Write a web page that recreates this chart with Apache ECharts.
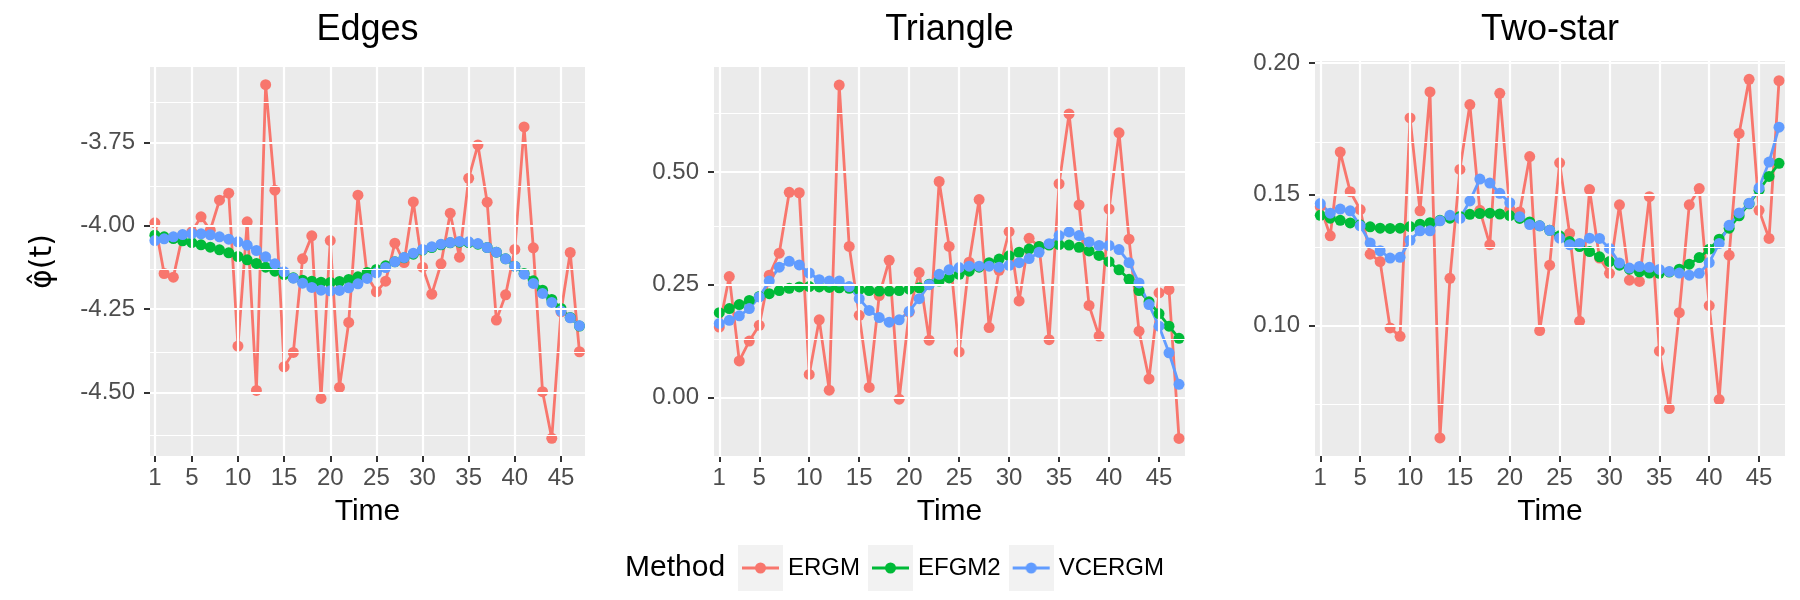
<!DOCTYPE html>
<html>
<head>
<meta charset="utf-8">
<script src="https://cdn.jsdelivr.net/npm/echarts@6/dist/echarts.min.js"></script>
<style>
  html, body { margin: 0; padding: 0; background: #fff; }
  #main { width: 1800px; height: 600px; }
</style>
</head>
<body>
<div id="main"></div>
<script>
// time points
const time = [1, 2, 3, 4, 5, 6, 7, 8, 9, 10, 11, 12, 13, 14, 15, 16, 17, 18, 19, 20,
  21, 22, 23, 24, 25, 26, 27, 28, 29, 30, 31, 32, 33, 34, 35, 36, 37, 38, 39, 40,
  41, 42, 43, 44, 45, 46, 47]
const timeTicks = [1, 5, 10, 15, 20, 25, 30, 35, 40, 45]

// Edges
const edgesErgm = [-3.991, -4.143, -4.154, -4.028, -4.018, -3.973, -4.013, -3.923, -3.902, -4.361,
  -3.988, -4.494, -3.576, -3.893, -4.423, -4.380, -4.099, -4.030, -4.518, -4.044,
  -4.485, -4.290, -3.908, -4.150, -4.198, -4.166, -4.052, -4.110, -3.928, -4.124,
  -4.205, -4.114, -3.962, -4.094, -3.857, -3.757, -3.929, -4.283, -4.207, -4.071,
  -3.703, -4.066, -4.498, -4.638, -4.258, -4.080, -4.378]
const edgesEfgm2 = [-4.028, -4.033, -4.038, -4.045, -4.050, -4.057, -4.064, -4.072, -4.081, -4.092,
  -4.102, -4.113, -4.124, -4.136, -4.146, -4.156, -4.163, -4.166, -4.169, -4.170,
  -4.167, -4.161, -4.153, -4.140, -4.131, -4.120, -4.108, -4.096, -4.085, -4.073,
  -4.065, -4.057, -4.051, -4.049, -4.050, -4.055, -4.065, -4.079, -4.099, -4.121,
  -4.143, -4.165, -4.193, -4.221, -4.248, -4.275, -4.301]
const edgesVcergm = [-4.044, -4.039, -4.033, -4.026, -4.023, -4.024, -4.027, -4.033, -4.040, -4.048,
  -4.058, -4.074, -4.093, -4.114, -4.138, -4.157, -4.172, -4.185, -4.193, -4.195,
  -4.194, -4.186, -4.174, -4.158, -4.141, -4.125, -4.108, -4.095, -4.082, -4.071,
  -4.063, -4.055, -4.050, -4.047, -4.048, -4.053, -4.065, -4.079, -4.099, -4.121,
  -4.145, -4.173, -4.203, -4.230, -4.256, -4.276, -4.300]
const edgesMajor = [-4.5, -4.25, -4.0, -3.75]
const edgesMinor = [-4.625, -4.375, -4.125, -3.875, -3.625]

// Triangle
const triErgm = [0.156, 0.268, 0.081, 0.125, 0.160, 0.271, 0.320, 0.455, 0.454, 0.051,
  0.172, 0.016, 0.693, 0.335, 0.182, 0.022, 0.226, 0.304, -0.004, 0.189,
  0.277, 0.127, 0.479, 0.335, 0.101, 0.300, 0.439, 0.155, 0.282, 0.368,
  0.214, 0.353, 0.335, 0.128, 0.474, 0.629, 0.427, 0.204, 0.136, 0.418,
  0.587, 0.351, 0.147, 0.041, 0.232, 0.239, -0.091]
const triEfgm2 = [0.188, 0.197, 0.206, 0.215, 0.224, 0.230, 0.237, 0.242, 0.245, 0.246,
  0.245, 0.244, 0.243, 0.242, 0.239, 0.237, 0.236, 0.236, 0.237, 0.240,
  0.243, 0.251, 0.258, 0.265, 0.273, 0.280, 0.289, 0.299, 0.307, 0.314,
  0.322, 0.329, 0.335, 0.338, 0.339, 0.338, 0.333, 0.325, 0.315, 0.301,
  0.283, 0.262, 0.237, 0.212, 0.186, 0.158, 0.131]
const triVcergm = [0.164, 0.171, 0.181, 0.197, 0.223, 0.258, 0.289, 0.302, 0.294, 0.276,
  0.261, 0.258, 0.258, 0.246, 0.219, 0.193, 0.177, 0.167, 0.172, 0.191,
  0.219, 0.250, 0.273, 0.283, 0.288, 0.291, 0.291, 0.291, 0.289, 0.293,
  0.299, 0.308, 0.322, 0.341, 0.359, 0.367, 0.359, 0.345, 0.337, 0.337,
  0.328, 0.299, 0.254, 0.206, 0.158, 0.099, 0.029]
const triMajor = [0, 0.25, 0.5]
const triMinor = [-0.125, 0.125, 0.375, 0.625]

// Two-star
const starErgm = [0.1453, 0.1342, 0.1661, 0.1510, 0.1442, 0.1272, 0.1244, 0.0991, 0.0959, 0.1791,
  0.1437, 0.1890, 0.0572, 0.1180, 0.1595, 0.1842, 0.1439, 0.1308, 0.1885, 0.1443,
  0.1433, 0.1644, 0.0981, 0.1230, 0.1620, 0.1351, 0.1016, 0.1518, 0.1257, 0.1199,
  0.1460, 0.1173, 0.1168, 0.1491, 0.0903, 0.0684, 0.1049, 0.1460, 0.1522, 0.1076,
  0.0718, 0.1268, 0.1732, 0.1938, 0.1439, 0.1332, 0.1933]
const starEfgm2 = [0.1420, 0.1409, 0.1401, 0.1391, 0.1384, 0.1376, 0.1371, 0.1370, 0.1371, 0.1377,
  0.1386, 0.1392, 0.1401, 0.1409, 0.1416, 0.1424, 0.1427, 0.1428, 0.1425, 0.1419,
  0.1408, 0.1395, 0.1380, 0.1363, 0.1342, 0.1320, 0.1301, 0.1282, 0.1262, 0.1244,
  0.1230, 0.1215, 0.1205, 0.1200, 0.1199, 0.1204, 0.1215, 0.1234, 0.1259, 0.1291,
  0.1329, 0.1371, 0.1418, 0.1464, 0.1516, 0.1568, 0.1618]
const starVcergm = [0.1465, 0.1428, 0.1444, 0.1437, 0.1380, 0.1315, 0.1285, 0.1257, 0.1260, 0.1325,
  0.1361, 0.1361, 0.1399, 0.1420, 0.1408, 0.1475, 0.1558, 0.1543, 0.1504, 0.1468,
  0.1415, 0.1385, 0.1380, 0.1363, 0.1333, 0.1308, 0.1313, 0.1333, 0.1332, 0.1294,
  0.1238, 0.1219, 0.1225, 0.1222, 0.1214, 0.1206, 0.1200, 0.1192, 0.1199, 0.1240,
  0.1313, 0.1382, 0.1429, 0.1466, 0.1525, 0.1623, 0.1756]
const starMajor = [0.10, 0.15, 0.20]
const starMinor = [0.075, 0.125, 0.175]

const methods = ['ERGM', 'EFGM2', 'VCERGM']
const colors = ['#F8766D', '#00BA38', '#619CFF']
const font = '"Liberation Sans", Arial, sans-serif'

const panels = [
  { title: 'Edges', series: [edgesErgm, edgesEfgm2, edgesVcergm], major: edgesMajor, minor: edgesMinor,
    ymin: -4.691, ymax: -3.523, box: [150, 67, 585, 456] },
  { title: 'Triangle', series: [triErgm, triEfgm2, triVcergm], major: triMajor, minor: triMinor,
    ymin: -0.130, ymax: 0.733, box: [714, 67, 1185, 456] },
  { title: 'Two-star', series: [starErgm, starEfgm2, starVcergm], major: starMajor, minor: starMinor,
    ymin: 0.0503, ymax: 0.2008, box: [1315, 61, 1785, 456] }
]

// legend key: grey box with line and dot
function keyIcon(color) {
  const c = document.createElement('canvas')
  c.width = 45
  c.height = 46
  const g = c.getContext('2d')
  g.fillStyle = '#F2F2F2'
  g.fillRect(0, 0, 45, 46)
  g.strokeStyle = color
  g.lineWidth = 2.8
  g.beginPath()
  g.moveTo(4, 23)
  g.lineTo(41, 23)
  g.stroke()
  g.fillStyle = color
  g.beginPath()
  g.arc(22.5, 23, 5.5, 0, Math.PI * 2)
  g.fill()
  return 'image://' + c.toDataURL()
}

const grid = [], xAxis = [], yAxis = [], series = [], title = []

panels.forEach((p, i) => {
  const [l, t, r, b] = p.box
  grid.push({ left: l, top: t, width: r - l, height: b - t, show: true,
    backgroundColor: '#EBEBEB', borderWidth: 0, containLabel: false })
  title.push({ text: p.title, left: (l + r) / 2, top: 12, textAlign: 'center', padding: 0,
    textStyle: { fontSize: 36, fontWeight: 'normal', color: '#000', fontFamily: font } })
  xAxis.push({
    type: 'value', gridIndex: i, min: 0.47, max: 47.6,
    axisLine: { show: false, onZero: false },
    splitLine: { show: false },
    axisTick: { show: true, customValues: timeTicks, length: 6, lineStyle: { color: '#333', width: 2 } },
    axisLabel: { customValues: timeTicks, margin: 10, fontSize: 24, color: '#4D4D4D', fontFamily: font },
    name: 'Time', nameLocation: 'middle', nameGap: 41,
    nameTextStyle: { fontSize: 30, color: '#000', fontFamily: font }
  })
  yAxis.push({
    type: 'value', gridIndex: i, min: p.ymin, max: p.ymax,
    axisLine: { show: false, onZero: false },
    splitLine: { show: false },
    axisTick: { show: true, customValues: p.major, length: 6, lineStyle: { color: '#333', width: 2 } },
    axisLabel: { customValues: p.major, margin: 15, fontSize: 24, color: '#4D4D4D', fontFamily: font,
      formatter: v => v.toFixed(2) },
    name: i === 0 ? '\u03C6\u0302(t)' : '', nameLocation: 'middle', nameGap: 92,
    nameTextStyle: { fontSize: 30, color: '#000', fontFamily: '"DejaVu Sans", sans-serif' }
  })
  // panel grid lines
  const lines = []
  p.minor.forEach(v => lines.push({ yAxis: v, lineStyle: { color: '#fff', width: 1.1, type: 'solid' } }))
  p.major.forEach(v => lines.push({ yAxis: v, lineStyle: { color: '#fff', width: 2.2, type: 'solid' } }))
  timeTicks.forEach(v => lines.push({ xAxis: v, lineStyle: { color: '#fff', width: 2.2, type: 'solid' } }))
  series.push({
    type: 'line', name: 'grid' + i, xAxisIndex: i, yAxisIndex: i, z: 1, silent: true,
    data: time.map((x, k) => [x, p.series[0][k]]), symbol: 'none', lineStyle: { opacity: 0 },
    markLine: { silent: true, symbol: ['none', 'none'], animation: false, label: { show: false },
      emphasis: { disabled: true }, data: lines }
  })
  // lines first, then points (like geom_line + geom_point)
  p.series.forEach((vals, k) => {
    series.push({
      type: 'line', name: methods[k], xAxisIndex: i, yAxisIndex: i, z: 2,
      data: time.map((x, j) => [x, vals[j]]), symbol: 'none',
      lineStyle: { color: colors[k], width: 2.8 }, itemStyle: { color: colors[k] }
    })
  })
  p.series.forEach((vals, k) => {
    series.push({
      type: 'scatter', name: methods[k], xAxisIndex: i, yAxisIndex: i, z: 3,
      data: time.map((x, j) => [x, vals[j]]), symbolSize: 11,
      itemStyle: { color: colors[k], opacity: 1 }
    })
  })
})

title.push({ text: 'Method', left: 625, top: 553, padding: 0,
  textStyle: { fontSize: 30, fontWeight: 'normal', color: '#000', fontFamily: font } })

const chart = echarts.init(document.getElementById('main'))
chart.setOption({
  animation: false,
  backgroundColor: '#fff',
  textStyle: { fontFamily: font },
  title: title,
  grid: grid,
  xAxis: xAxis,
  yAxis: yAxis,
  legend: {
    left: 738, top: 545, orient: 'horizontal', itemWidth: 45, itemHeight: 46, itemGap: 8,
    padding: 0, selectedMode: false,
    textStyle: { fontSize: 24, color: '#000', fontFamily: font },
    data: methods.map((m, k) => ({ name: m, icon: keyIcon(colors[k]) }))
  },
  series: series
})
</script>
</body>
</html>
